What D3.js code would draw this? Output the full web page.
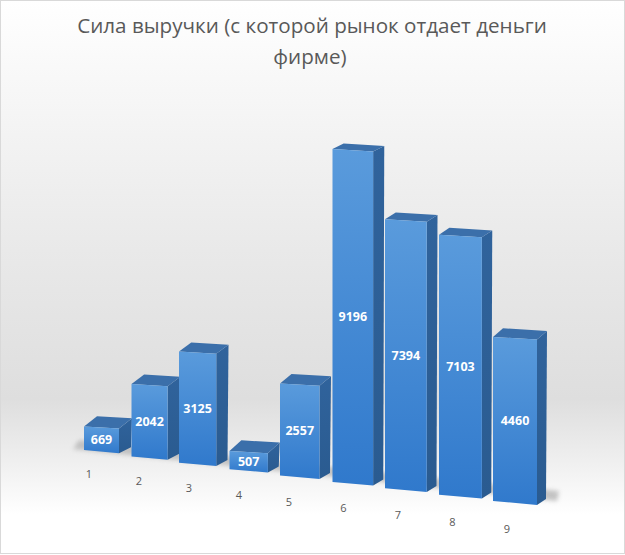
<!DOCTYPE html>
<html><head><meta charset="utf-8">
<script src="https://cdn.jsdelivr.net/npm/d3@7"></script>
<style>html,body{margin:0;padding:0;background:#fff}</style>
</head><body>
<svg id="c" width="625" height="555"></svg>
<script>
// ---- data ----
const categories = ["1","2","3","4","5","6","7","8","9"];
const values = [669, 2042, 3125, 507, 2557, 9196, 7394, 7103, 4460];
const titleLines = ["Сила выручки (с которой рынок отдает деньги", "фирме)"];

const W = 625, H = 555;
const svg = d3.select("#c");
const defs = svg.append("defs");

function grad(id, stops, x2, y2) {
  const g = defs.append("linearGradient").attr("id", id)
    .attr("x1", 0).attr("y1", 0).attr("x2", x2).attr("y2", y2);
  stops.forEach(s => g.append("stop").attr("offset", s[0]).attr("stop-color", s[1]));
}
grad("bg", [[0,"#ffffff"],[0.12,"#f9f9f9"],[0.45,"#e9e9e9"],[0.72,"#dedede"],[0.82,"#ededed"],[0.93,"#ffffff"],[1,"#ffffff"]], 0, 1);
grad("front", [[0,"#5a9bdc"],[1,"#3079cc"]], 0, 1);
grad("side", [[0,"#30639c"],[1,"#2a5b90"]], 0, 1);
defs.append("filter").attr("id","blur").attr("x","-20%").attr("y","-50%").attr("width","140%").attr("height","200%")
  .append("feGaussianBlur").attr("stdDeviation", 2);

svg.append("rect").attr("x",0.5).attr("y",0.5).attr("width",W-1).attr("height",H-2)
  .attr("fill","url(#bg)").attr("stroke","#d9d9d9");

// ---- title ----
const tg = svg.append("g").attr("fill","#595959").attr("font-family","'Open Sans', sans-serif").attr("text-anchor","middle");
const t1 = tg.append("text").attr("x",312).attr("y",33).attr("font-size",20).text(titleLines[0]);
const len = t1.node().getComputedTextLength();
const fs = 20 * 470 / len;
t1.attr("font-size", fs);
tg.append("text").attr("x",310).attr("y",64).attr("font-size",fs).text(titleLines[1]);

// ---- perspective scales ----
const n = categories.length;
const idx = d3.range(n);
const xL = d3.scaleLinear().domain([0,2,4,6,8]).range([84,179,280,385,493]);
const wF = d3.scaleLinear().domain([0,8]).range([35,44]);
const yBase = d3.scaleLinear().domain([0,8]).range([450,501]);
const hScale = d3.scaleLinear().domain([0,10000]).range([0,352]);
const persp = d3.scaleLinear().domain([0,8]).range([1,1.045]);
const sideDx = d3.scaleLinear().domain([0,8]).range([13,10]);
const topDepth = d3.scaleLinear().domain([140,430]).range([5.3,10.3]);
const sb = 0.09, st = 0.06;

const geo = idx.map(i => {
  const x0 = xL(i), w = wF(i), x1 = x0 + w;
  const yb0 = yBase(i), yb1 = yb0 + w*sb;
  const h = hScale(values[i]) * persp(i);
  const yt0 = yb0 - h, yt1 = yt0 + w*st;
  const dx = sideDx(i), dt = topDepth(yt0);
  return {i, x0, x1, w, yb0, yb1, yt0, yt1, dx, dt};
});

// floor shadow strip
const g0 = geo[0], g8 = geo[n-1];
const fx0 = g0.x0 - 11, fy0 = g0.yb0 - 1;
const fx1 = g8.x1 + g8.dx + 10, fy1 = g8.yb1 - 4;
svg.append("polygon")
  .attr("points", [[fx0,fy0],[fx1,fy1],[fx1+2,fy1-10],[fx0+6,fy0-9]].map(p=>p.join(",")).join(" "))
  .attr("fill","#bdbdbd").attr("opacity",0.9).attr("filter","url(#blur)");

// ---- bars ----
const bars = svg.append("g").selectAll("g").data(geo).join("g");
bars.append("polygon").attr("fill","url(#side)")
  .attr("points", d => [[d.x1,d.yt1],[d.x1+d.dx,d.yt1-d.dt],[d.x1+d.dx-1,d.yb1-6],[d.x1,d.yb1]].map(p=>p.join(",")).join(" "));
bars.append("polygon").attr("fill","#3b6faa")
  .attr("points", d => [[d.x0,d.yt0],[d.x1,d.yt1],[d.x1+d.dx,d.yt1-d.dt],[d.x0+d.dx,d.yt0-d.dt]].map(p=>p.join(",")).join(" "));
bars.append("polygon").attr("fill","url(#front)")
  .attr("points", d => [[d.x0,d.yt0],[d.x1,d.yt1],[d.x1,d.yb1],[d.x0,d.yb0]].map(p=>p.join(",")).join(" "));
bars.append("text")
  .attr("x", d => d.x0 + d.w/2)
  .attr("y", d => (d.yt0 + d.yb0)/2 + d.w*(sb+st)/4)
  .attr("dy","0.35em").attr("text-anchor","middle")
  .attr("fill","#ffffff").attr("font-family","'Open Sans', sans-serif").attr("font-weight",700).attr("font-size",12.5)
  .text(d => values[d.i]);

// ---- category labels ----
const lx = d3.scaleLinear().domain([0,4,8]).range([89,289,507]);
const ly = d3.scaleLinear().domain([0,8]).range([478,533]);
svg.append("g").selectAll("text").data(categories).join("text")
  .attr("x", (d,i) => lx(i)).attr("y", (d,i) => ly(i))
  .attr("text-anchor","middle").attr("fill","#595959")
  .attr("font-family","'Open Sans', sans-serif").attr("font-size",11)
  .text(d => d);
</script>
</body></html>
